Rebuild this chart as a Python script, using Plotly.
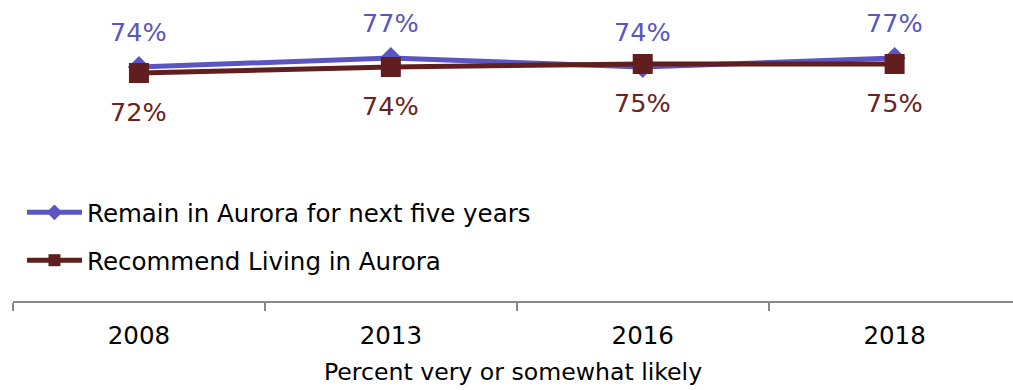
import plotly.graph_objects as go

years = ["2008", "2013", "2016", "2018"]
remain = [74, 77, 74, 77]
recommend = [72, 74, 75, 75]

purple = "#5B55C1"
maroon = "#601E1E"
FONT = "DejaVu Sans"

fig = go.Figure()
fig.add_trace(go.Scatter(
    x=years, y=remain, mode="lines+markers",
    name="Remain in Aurora for next five years",
    line=dict(color=purple, width=5),
    marker=dict(symbol="diamond", size=17, color=purple),
    legendgroup="a",
))
fig.add_trace(go.Scatter(
    x=years, y=recommend, mode="lines+markers",
    name="Recommend Living in Aurora",
    line=dict(color=maroon, width=5),
    marker=dict(symbol="square", size=20, color=maroon),
    legendgroup="b",
))

# value labels: above the purple line, below the maroon line
for i, v in enumerate(remain):
    fig.add_annotation(x=i, y=v, text=f"{v}%", showarrow=False, yshift=35,
                       font=dict(family=FONT, size=25.5, color=purple))
for i, v in enumerate(recommend):
    fig.add_annotation(x=i, y=v, text=f"{v}%", showarrow=False, yshift=-39,
                       font=dict(family=FONT, size=25.5, color="#6A2222"))

fig.update_layout(
    width=1013, height=390,
    margin=dict(l=13, r=0, t=0, b=89, autoexpand=False),
    paper_bgcolor="white", plot_bgcolor="white",
    font=dict(family=FONT, size=24, color="black"),
    showlegend=True,
    legend=dict(
        x=0.0217, y=0.513, xref="container", yref="container",
        xanchor="left", yanchor="top",
        font=dict(family=FONT, size=24.5, color="black"),
        itemwidth=55, itemsizing="constant", tracegroupgap=13,
        bgcolor="rgba(0,0,0,0)",
    ),
    xaxis=dict(
        type="category", range=[-0.5, 3.47],
        showline=True, linecolor="#898989", linewidth=2,
        ticks="outside", tickson="boundaries", ticklen=8, tickwidth=2, tickcolor="#898989",
        showgrid=False, zeroline=False,
        ticklabelstandoff=12,
        tickfont=dict(family=FONT, size=24.5),
        title=dict(text="Percent very or somewhat likely", standoff=14,
                   font=dict(family=FONT, size=23.6)),
    ),
    yaxis=dict(range=[-4, 96.33], visible=False, showgrid=False, zeroline=False),
)

fig.write_html("out.html")
